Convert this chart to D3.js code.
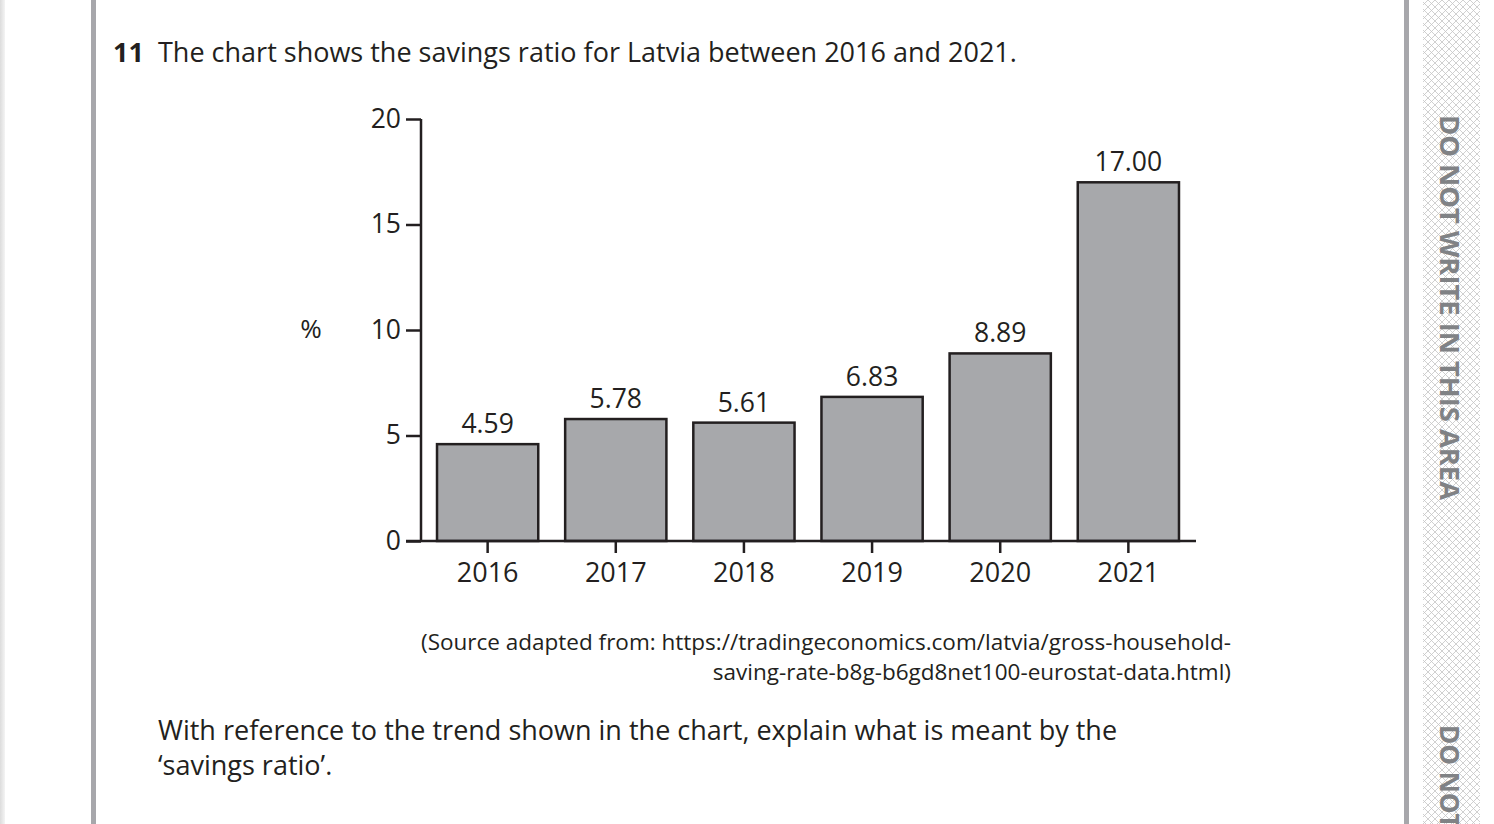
<!DOCTYPE html>
<html>
<head>
<meta charset="utf-8">
<script src="https://cdn.jsdelivr.net/npm/d3@7"></script>
<style>
  html, body { margin: 0; padding: 0; background: #fff; }
  svg { display: block; }
  text { font-family: "Open Sans", "Noto Sans", sans-serif; fill: #231f20; }
</style>
</head>
<body>
<svg id="mainsvg" width="1494" height="824"></svg>
<script>
// data
const years = ['2016', '2017', '2018', '2019', '2020', '2021']
const savings = [4.59, 5.78, 5.61, 6.83, 8.89, 17.00]
const yTicks = [0, 5, 10, 15, 20]

const ink = '#231f20'
const barFill = '#a7a8ab'
const svg = d3.select('#mainsvg')

// page furniture
const defs = svg.append('defs')
const edge = defs.append('linearGradient').attr('id', 'edge')
edge.append('stop').attr('offset', '0%').attr('stop-color', '#dcdcdc')
edge.append('stop').attr('offset', '100%').attr('stop-color', '#f4f4f4')
svg.append('rect').attr('x', 0).attr('y', 0).attr('width', 5).attr('height', 824).attr('fill', 'url(#edge)')
svg.append('rect').attr('x', 91).attr('y', 0).attr('width', 5).attr('height', 824).attr('fill', '#a7a7ab')
svg.append('rect').attr('x', 1404).attr('y', 0).attr('width', 5).attr('height', 824).attr('fill', '#a7a7ab')

const hatch = defs.append('pattern').attr('id', 'hatch')
    .attr('patternUnits', 'userSpaceOnUse').attr('width', 7).attr('height', 7)
hatch.append('path').attr('d', 'M0,0 L7,7 M7,0 L0,7')
    .attr('stroke', '#c4c4c4').attr('stroke-width', 0.8).attr('fill', 'none')
svg.append('rect').attr('x', 1423).attr('y', 0).attr('width', 57).attr('height', 824).attr('fill', 'url(#hatch)')

// side warning, rotated; the second copy runs off the page bottom as in the scan
const side = svg.append('g').attr('transform', 'translate(1440,115) rotate(90)')
side.append('text').attr('x', 0).attr('y', 0)
    .attr('font-size', 26).attr('font-weight', 'bold').style('fill', '#808285')
    .attr('textLength', 385).attr('lengthAdjust', 'spacingAndGlyphs')
    .text('DO NOT WRITE IN THIS AREA')
side.append('text').attr('x', 610).attr('y', 0)
    .attr('font-size', 26).attr('font-weight', 'bold').style('fill', '#808285')
    .text('DO NOT')

// question text
svg.append('text').attr('x', 113).attr('y', 62).attr('font-size', 27).attr('font-weight', 'bold').text('11')
svg.append('text').attr('x', 158).attr('y', 62).attr('font-size', 27)
    .text('The chart shows the savings ratio for Latvia between 2016 and 2021.')

// chart
const x = d3.scaleBand().domain(years).range([421, 1195]).paddingInner(0.21).paddingOuter(0.125)
const y = d3.scaleLinear().domain([0, 20]).range([541, 119])

const g = svg.append('g')

g.selectAll('rect.bar').data(years).join('rect')
    .attr('class', 'bar')
    .attr('x', d => x(d))
    .attr('y', (d, i) => y(savings[i]))
    .attr('width', x.bandwidth())
    .attr('height', (d, i) => y(0) - y(savings[i]))
    .attr('fill', barFill)
    .attr('stroke', ink)
    .attr('stroke-width', 2.5)

g.selectAll('text.val').data(years).join('text')
    .attr('class', 'val')
    .attr('x', d => x(d) + x.bandwidth() / 2)
    .attr('y', (d, i) => y(savings[i]) - 11)
    .attr('text-anchor', 'middle')
    .attr('font-size', 26.5)
    .text((d, i) => savings[i].toFixed(2))

const yAxis = g.append('g').attr('transform', 'translate(421,0)')
    .call(d3.axisLeft(y).tickValues(yTicks).tickSize(15).tickPadding(5))
yAxis.select('.domain').attr('d', `M0,${y(20)}V${y(0)}`).attr('stroke', ink).attr('stroke-width', 2.5)
yAxis.selectAll('.tick line').attr('stroke', ink).attr('stroke-width', 2.5)
yAxis.selectAll('.tick text').attr('font-size', 26.5).attr('font-family', null).style('fill', ink)

const xAxis = g.append('g').attr('transform', `translate(0,${y(0)})`)
    .call(d3.axisBottom(x).tickSize(12).tickPadding(10))
xAxis.select('.domain').attr('d', 'M406,0H1196').attr('stroke', ink).attr('stroke-width', 2.5)
xAxis.selectAll('.tick line').attr('stroke', ink).attr('stroke-width', 2.5)
xAxis.selectAll('.tick text').attr('font-size', 27).attr('font-family', null).style('fill', ink)

g.append('text').attr('x', 311).attr('y', 338).attr('text-anchor', 'middle').attr('font-size', 26).text('%')

// source
svg.append('text').attr('x', 1231).attr('y', 650).attr('text-anchor', 'end').attr('font-size', 22.5)
    .text('(Source adapted from: https://tradingeconomics.com/latvia/gross-household-')
svg.append('text').attr('x', 1231).attr('y', 680).attr('text-anchor', 'end').attr('font-size', 22.5)
    .text('saving-rate-b8g-b6gd8net100-eurostat-data.html)')

svg.append('text').attr('x', 158).attr('y', 740).attr('font-size', 27)
    .text('With reference to the trend shown in the chart, explain what is meant by the')
svg.append('text').attr('x', 158).attr('y', 775).attr('font-size', 27)
    .text('\u2018savings ratio\u2019.')
</script>
</body>
</html>
